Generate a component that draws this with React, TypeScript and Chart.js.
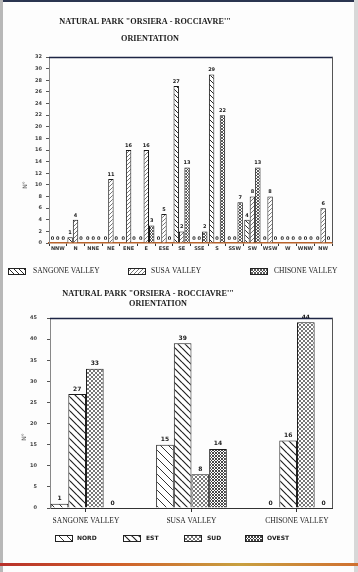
import React, { useEffect, useRef } from 'react';
import { Chart, registerables } from 'chart.js';

Chart.register(...registerables);

// ---------- data ----------
const TITLE_LINE_1 = 'NATURAL PARK "ORSIERA - ROCCIAVRE\'"';
const TITLE_LINE_2 = 'ORIENTATION';
const Y_TITLE = 'N°';

const ORIENTATIONS = ['NNW', 'N', 'NNE', 'NE', 'ENE', 'E', 'ESE', 'SE', 'SSE', 'S', 'SSW', 'SW', 'WSW', 'W', 'WNW', 'NW'];
const SANGONE_BY_ORIENTATION = [0, 1, 0, 0, 0, 0, 0, 27, 0, 29, 0, 4, 0, 0, 0, 0];
const SUSA_BY_ORIENTATION = [0, 4, 0, 11, 16, 16, 5, 2, 0, 0, 0, 8, 8, 0, 0, 6];
const CHISONE_BY_ORIENTATION = [0, 0, 0, 0, 0, 3, 0, 13, 2, 22, 7, 13, 0, 0, 0, 0];
const TOP_SERIES_NAMES = ['SANGONE VALLEY', 'SUSA VALLEY', 'CHISONE VALLEY'];
const TOP_Y_MAX = 32;
const TOP_Y_STEP = 2;

const VALLEYS = ['SANGONE VALLEY', 'SUSA VALLEY', 'CHISONE VALLEY'];
const NORD = [1, 15, 0];
const EST = [27, 39, 16];
const SUD = [33, 8, 44];
const OVEST = [0, 14, 0];
const BOTTOM_SERIES_NAMES = ['NORD', 'EST', 'SUD', 'OVEST'];
const BOTTOM_Y_MAX = 45;
const BOTTOM_Y_STEP = 5;

// ---------- helpers ----------
function hatch(kind: string, s: number, color: string, lw: number) {
  const c = document.createElement('canvas');
  c.width = s;
  c.height = s;
  const g = c.getContext('2d') as CanvasRenderingContext2D;
  g.fillStyle = '#ffffff';
  g.fillRect(0, 0, s, s);
  g.strokeStyle = color;
  g.lineWidth = lw;
  g.beginPath();
  for (const k of [-1, 0, 1]) {
    if (kind.includes('\\')) {
      g.moveTo(0, k * s);
      g.lineTo(s, s + k * s);
    }
    if (kind.includes('/')) {
      g.moveTo(0, s + k * s);
      g.lineTo(s, k * s);
    }
  }
  if (kind.includes('-')) {
    g.moveTo(0, s / 2);
    g.lineTo(s, s / 2);
  }
  g.stroke();
  return g.createPattern(c, 'repeat') as CanvasPattern;
}

const SERIF = '"Liberation Serif", "DejaVu Serif", serif';
const SANS = '"DejaVu Sans", "Liberation Sans", sans-serif';

function valueLabels(fontSize: number, gap: number) {
  return {
    id: 'valueLabels',
    afterDatasetsDraw(chart: any) {
      const ctx = chart.ctx;
      ctx.save();
      ctx.font = `bold ${fontSize}px ${SANS}`;
      ctx.fillStyle = '#222';
      ctx.textAlign = 'center';
      ctx.textBaseline = 'bottom';
      chart.data.datasets.forEach((ds: any, i: number) => {
        const meta = chart.getDatasetMeta(i);
        meta.data.forEach((el: any, j: number) => {
          const raw = ds.data[j];
          const v = raw !== null && typeof raw === 'object' ? raw.y : raw;
          ctx.fillText(String(v), el.x, el.y - gap);
        });
      });
      ctx.restore();
    },
  };
}

const framePlugin = {
  id: 'frame',
  afterDraw(chart: any) {
    const { ctx, chartArea: a } = chart;
    ctx.save();
    ctx.strokeStyle = '#1d2545';
    ctx.lineWidth = 1.5;
    ctx.beginPath();
    ctx.moveTo(a.left, a.top + 0.5);
    ctx.lineTo(a.right + 1, a.top + 0.5);
    ctx.stroke();
    ctx.strokeStyle = '#555';
    ctx.lineWidth = 1;
    ctx.beginPath();
    ctx.moveTo(a.right + 0.5, a.top);
    ctx.lineTo(a.right + 0.5, a.bottom);
    ctx.stroke();
    ctx.restore();
  },
};

function decorPlugin(cfg: any) {
  return {
    id: 'decor',
    afterDraw(chart: any) {
      const ctx = chart.ctx;
      ctx.save();
      ctx.fillStyle = '#1a1a1a';
      ctx.textBaseline = 'middle';
      ctx.textAlign = 'center';
      ctx.font = cfg.titleFont;
      ctx.fillText(TITLE_LINE_1, cfg.t1[0], cfg.t1[1]);
      ctx.fillText(TITLE_LINE_2, cfg.t2[0], cfg.t2[1]);
      // y title
      ctx.save();
      ctx.translate(cfg.yTitle[0], cfg.yTitle[1]);
      ctx.rotate(-Math.PI / 2);
      ctx.font = `6px ${SANS}`;
      ctx.fillStyle = '#666';
      ctx.fillText(Y_TITLE, 0, 0);
      ctx.restore();
      // legend
      ctx.textAlign = 'left';
      ctx.font = cfg.legendFont;
      cfg.legend.forEach((it: any, i: number) => {
        const ds = chart.data.datasets[i];
        ctx.fillStyle = ds.backgroundColor;
        ctx.fillRect(it.box[0], it.box[1], it.box[2], it.box[3]);
        ctx.strokeStyle = '#222';
        ctx.lineWidth = 1;
        ctx.strokeRect(it.box[0] + 0.5, it.box[1] + 0.5, it.box[2], it.box[3]);
        ctx.fillStyle = '#1a1a1a';
        ctx.fillText(ds.label, it.text[0], it.text[1]);
      });
      ctx.restore();
    },
  };
}

export default function App() {
  const topRef = useRef<HTMLCanvasElement>(null);
  const botRef = useRef<HTMLCanvasElement>(null);

  useEffect(() => {
    const topPatterns = [
      hatch('\\', 5, '#2a2a2a', 1),
      hatch('/', 4, '#555', 0.8),
      hatch('\\/', 3, '#333', 0.8),
    ];
    const topSeries = [SANGONE_BY_ORIENTATION, SUSA_BY_ORIENTATION, CHISONE_BY_ORIENTATION];
    const top = new Chart(topRef.current as HTMLCanvasElement, {
      type: 'bar',
      data: {
        labels: ORIENTATIONS,
        datasets: topSeries.map((d, i) => ({
          label: TOP_SERIES_NAMES[i],
          data: d,
          backgroundColor: topPatterns[i],
          borderColor: '#1a1a1a',
          borderWidth: 1,
          categoryPercentage: 0.92,
          barPercentage: 1,
        })),
      },
      options: {
        animation: false,
        responsive: false,
        devicePixelRatio: 1,
        layout: { padding: { left: 0, right: 26, top: 57, bottom: 22 } },
        plugins: { legend: { display: false }, title: { display: false }, tooltip: { enabled: false } },
        scales: {
          x: {
            type: 'category',
            afterFit: (s: any) => { s.height = 20; },
            grid: { display: true, drawOnChartArea: false, tickLength: 3, color: '#333' },
            border: { display: true, color: '#b8622a', width: 1.5 },
            ticks: { autoSkip: false, maxRotation: 0, padding: 0, font: { size: 5, weight: 'bold', family: SANS }, color: '#333' },
          },
          y: {
            min: 0,
            max: TOP_Y_MAX,
            afterFit: (s: any) => { s.width = 49; },
            grid: { display: true, drawOnChartArea: false, tickLength: 3, color: '#555' },
            border: { display: true, color: '#888', dash: [2, 2] },
            ticks: { stepSize: TOP_Y_STEP, autoSkip: false, padding: 4, font: { size: 5, weight: 'bold', family: SANS }, color: '#444' },
          },
        },
      },
      plugins: [
        valueLabels(5, 2),
        framePlugin,
        decorPlugin({
          titleFont: `bold 8.2px ${SERIF}`,
          t1: [145, 22],
          t2: [150, 39],
          yTitle: [25, 185],
          legendFont: `7.5px ${SERIF}`,
          legend: [
            { box: [8, 268, 17, 6], text: [33, 271.5] },
            { box: [128, 268, 17, 6], text: [151, 271.5] },
            { box: [250, 268, 17, 6], text: [274, 271.5] },
          ],
        }),
      ],
    } as any);

    const botPatterns = [
      hatch('\\', 8, '#333', 1),
      hatch('\\', 7, '#222', 1.2),
      hatch('\\/', 4, '#555', 0.8),
      hatch('\\/', 3, '#333', 0.9),
    ];
    const botSeries = [NORD, EST, SUD, OVEST];
    const bottom = new Chart(botRef.current as HTMLCanvasElement, {
      type: 'bar',
      data: {
        datasets: botSeries.map((d, i) => ({
          label: BOTTOM_SERIES_NAMES[i],
          data: d.map((v, j) => ({ x: j, y: v })),
          backgroundColor: botPatterns[i],
          borderColor: '#1a1a1a',
          borderWidth: 1,
          categoryPercentage: 0.67,
          barPercentage: 1,
        })),
      },
      options: {
        animation: false,
        responsive: false,
        devicePixelRatio: 1,
        layout: { padding: { left: 0, right: 26, top: 33, bottom: 48 } },
        plugins: { legend: { display: false }, title: { display: false }, tooltip: { enabled: false } },
        scales: {
          x: {
            type: 'linear',
            offset: false,
            min: -0.341,
            max: 2.332,
            afterFit: (s: any) => { s.height = 16; },
            afterBuildTicks: (s: any) => { s.ticks = VALLEYS.map((_, i) => ({ value: i })); },
            grid: { display: true, offset: false, drawOnChartArea: false, tickLength: 4, color: '#333' },
            border: { display: true, color: '#333', width: 1 },
            ticks: {
              padding: 5,
              maxRotation: 0,
              autoSkip: false,
              font: { size: 7.5, family: SERIF },
              color: '#222',
              callback: (v: any) => VALLEYS[Math.round(v)] ?? '',
            },
          },
          y: {
            min: 0,
            max: BOTTOM_Y_MAX,
            afterFit: (s: any) => { s.width = 50; },
            grid: { display: true, drawOnChartArea: false, tickLength: 3, color: '#555' },
            border: { display: true, color: '#888', dash: [2, 2] },
            ticks: { stepSize: BOTTOM_Y_STEP, autoSkip: false, padding: 10, font: { size: 5, weight: 'bold', family: SANS }, color: '#444' },
          },
        },
      },
      plugins: [
        valueLabels(6, 2),
        framePlugin,
        decorPlugin({
          titleFont: `bold 8.2px ${SERIF}`,
          t1: [148, 9],
          t2: [158, 19],
          yTitle: [24, 152],
          legendFont: `bold 6px ${SANS}`,
          legend: [
            { box: [55, 250, 17, 6], text: [77, 253.5] },
            { box: [123, 250, 17, 6], text: [146, 253.5] },
            { box: [184, 250, 17, 6], text: [207, 253.5] },
            { box: [245, 250, 17, 6], text: [267, 253.5] },
          ],
        }),
      ],
    } as any);

    return () => {
      top.destroy();
      bottom.destroy();
    };
  }, []);

  return (
    <div style={{ position: 'absolute', left: 0, top: 0, width: 358, height: 572, background: '#fdfdfd', overflow: 'hidden' }}>
      <div style={{ position: 'absolute', left: 0, top: 0, width: 358, height: 2, background: '#2b3550' }} />
      <div style={{ position: 'absolute', left: 0, top: 0, width: 3, height: 572, background: '#b8b8b8' }} />
      <div style={{ position: 'absolute', right: 0, top: 0, width: 4, height: 572, background: '#d8d8d8' }} />
      <div style={{ position: 'absolute', left: 0, top: 563, width: 358, height: 3, background: 'linear-gradient(90deg,#b8302a,#d0602a,#c8a040,#d07030)' }} />
      <canvas ref={topRef} width={358} height={285} style={{ position: 'absolute', left: 0, top: 0, width: 358, height: 285 }} />
      <canvas ref={botRef} width={358} height={287} style={{ position: 'absolute', left: 0, top: 285, width: 358, height: 287 }} />
    </div>
  );
}
